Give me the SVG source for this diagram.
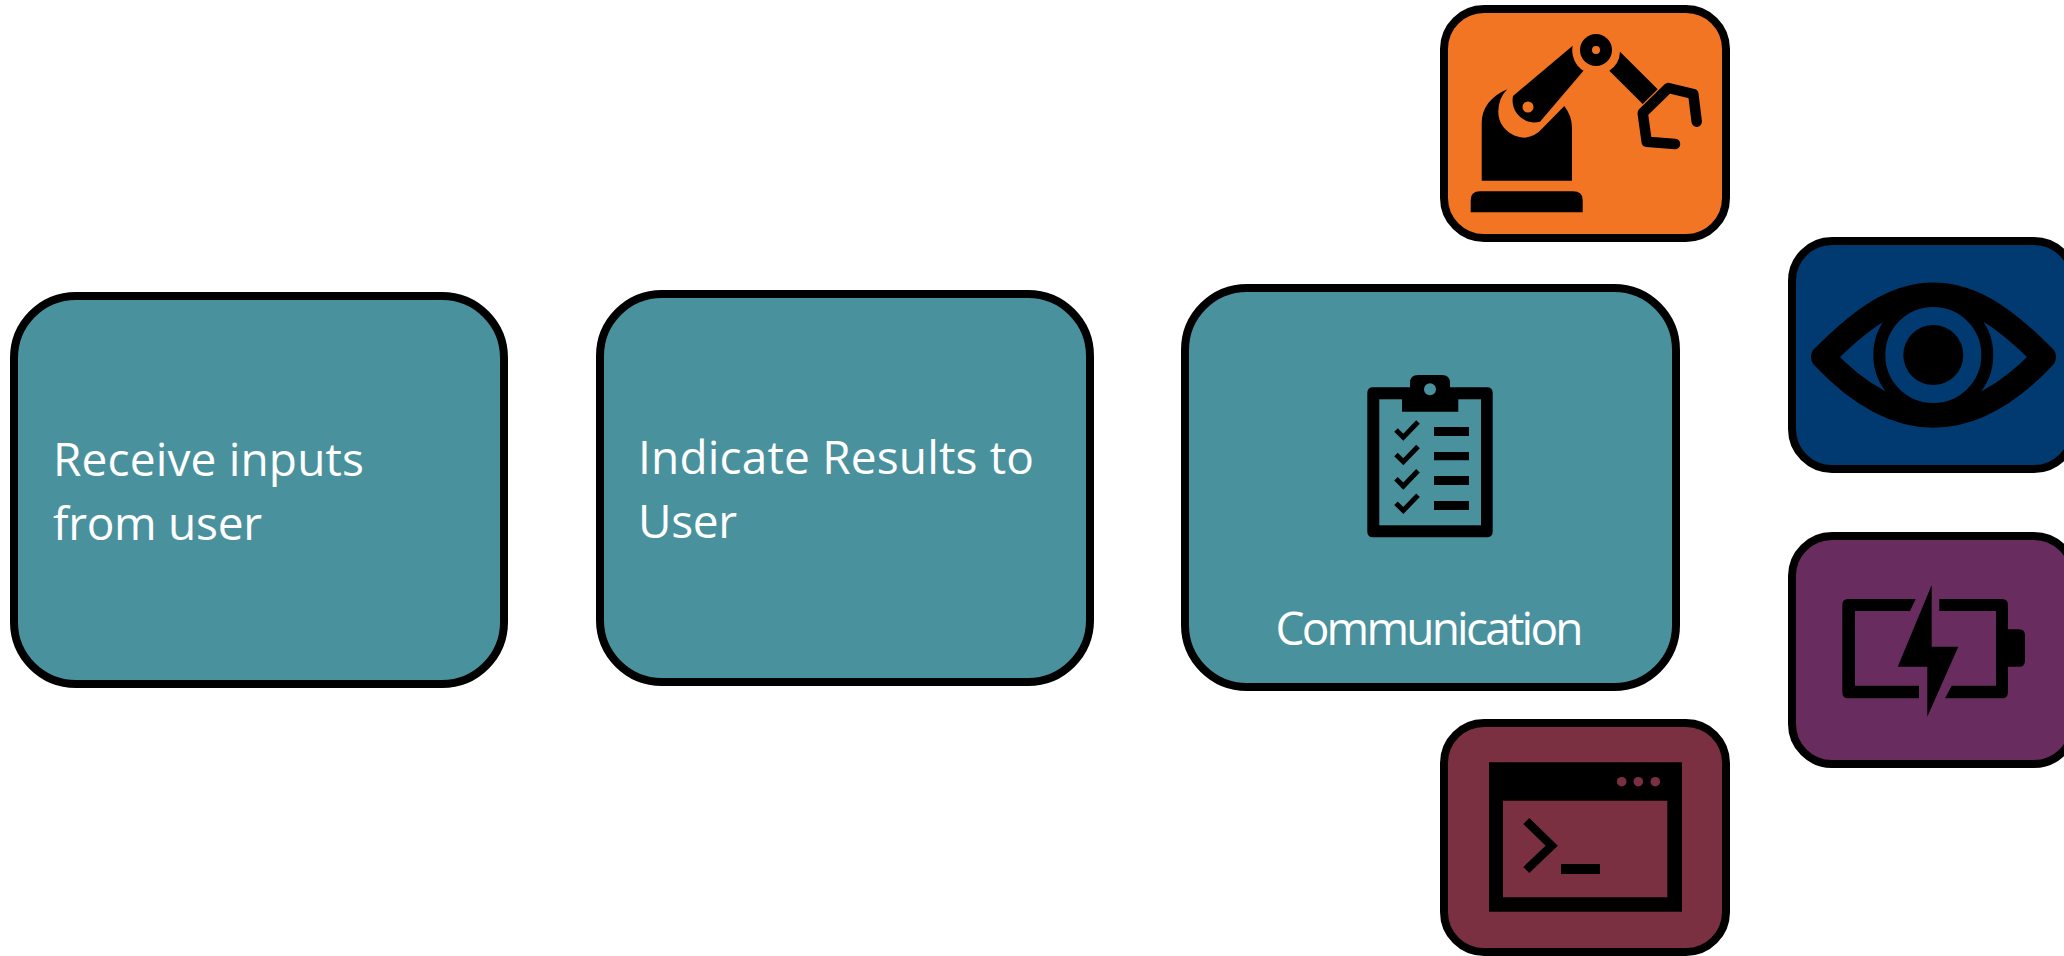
<svg xmlns="http://www.w3.org/2000/svg" width="2064" height="956" viewBox="0 0 2064 956">
<style>
.box{stroke:#000;stroke-width:8}
.teal{fill:#4a919e}
.t{font-family:"Open Sans","Noto Sans",sans-serif;font-size:46px;fill:#fff}
.k{fill:#000}
</style>
<defs><clipPath id="eyeclip"><path d="M1823 357C1855 325 1890 294.500 1933.500 294.500S2012 325 2044 357C2012 391 1975 415.700 1933.500 415.700S1855 391 1823 357Z"/></clipPath></defs>
<rect width="2064" height="956" fill="#fff"/>
<g id="connectors"/>
<g id="node-receive"><rect class="box teal" x="14" y="296" width="490" height="388" rx="62"/>
<text class="t" x="53" y="476" textLength="311">Receive inputs</text><text class="t" x="53" y="540" textLength="209">from user</text></g>
<g id="node-indicate"><rect class="box teal" x="600" y="294" width="490" height="388" rx="62"/>
<text class="t" x="638" y="474" textLength="396">Indicate Results to</text><text class="t" x="638" y="538" textLength="99">User</text></g>
<g id="node-communication"><rect class="box teal" x="1185" y="288" width="491" height="399" rx="62"/>
<path class="k" d="M1373 387.300H1410V383Q1410 375 1418 375H1442Q1450 375 1450 383V387.300H1487Q1492.700 387.300 1492.700 393V531.500Q1492.700 537.300 1487 537.300H1373Q1367.300 537.300 1367.300 531.500V393Q1367.300 387.300 1373 387.300Z"/>
<rect class="teal" x="1379.300" y="399.300" width="101.700" height="126"/>
<path class="k" d="M1402 393H1458.300V411.700H1402Z"/>
<circle class="teal" cx="1430" cy="389.300" r="6"/>
<path class="k" d="M1434 427H1469V436H1434ZM1434 452H1469V460.300H1434ZM1434 476H1469V485H1434ZM1434 501H1469V510H1434Z"/>
<path d="M1396 430L1403.300 437.300L1418 422M1396 454.400L1403.300 461.700L1418 446.400M1396 478.800L1403.300 486.100L1418 470.800M1396 503.200L1403.300 510.500L1418 495.200" fill="none" stroke="#000" stroke-width="5"/>
<text class="t" x="1275.500" y="645" textLength="308">Communication</text></g>
<g id="node-robot"><rect class="box" fill="#f27524" x="1444" y="9" width="282" height="229" rx="40"/>
<circle class="k" cx="1596" cy="50" r="16"/><circle cx="1596" cy="50" r="4" fill="#f27524"/>
<path class="k" d="M1572.700 45.700L1513 96A22 22 0 0 0 1540 121.700L1583.500 70.700A24 24 0 0 1 1572.700 45.700Z"/>
<circle cx="1528" cy="107" r="5.500" fill="#f27524"/>
<path class="k" d="M1507.300 89.300C1491 96 1481.700 108 1481.700 123V180.700H1572V128Q1572 116 1564.300 106L1542.700 128A28 28 0 0 1 1525 137.700C1510 137 1498.300 126 1498.300 111.700Q1498.300 98 1507.300 89.300Z"/>
<path class="k" d="M1470.700 212.300V200Q1470.700 191.300 1480 191.300H1573Q1582.700 191.300 1582.700 200V212.300Z"/>
<path class="k" d="M1620 51.700L1657.700 89.300L1642.700 104L1609.300 70.700A24 24 0 0 0 1620 51.700Z"/>
<path d="M1696.700 121.700L1693.300 94L1668.300 88L1642.700 113L1646.700 141.700L1675 144" fill="none" stroke="#000" stroke-width="10.500" stroke-linecap="round" stroke-linejoin="round"/></g>
<g id="node-eye"><rect class="box" fill="#003a70" x="1792" y="241" width="282" height="228" rx="40"/>
<path d="M1823 357C1855 325 1890 294.500 1933.500 294.500S2012 325 2044 357C2012 391 1975 415.700 1933.500 415.700S1855 391 1823 357Z" fill="#003a70" stroke="#000" stroke-width="24" stroke-linejoin="round"/>
<circle cx="1933.300" cy="355" r="54" fill="#003a70" stroke="#000" stroke-width="12" clip-path="url(#eyeclip)"/>
<circle class="k" cx="1933.300" cy="355" r="30"/></g>
<g id="node-battery"><rect class="box" fill="#692c5f" x="1792" y="536" width="282" height="228" rx="40"/>
<path class="k" d="M1915.700 599H1848Q1842.300 599 1842.300 605V692Q1842.300 698.300 1848 698.300H1919V685.700H1855V611H1910ZM1939.300 599H2002Q2008 599 2008 605V692Q2008 698.300 2002 698.300H1945L1951.700 685.700H1996V611H1939.300ZM2008 629.300H2019Q2025 629.300 2025 635.300V660.700Q2025 666.700 2019 666.700H2008ZM1931.700 585V646.700H1958.300L1927.300 716.700V666.700H1897.700Z"/></g>
<g id="node-terminal"><rect class="box" fill="#7a3041" x="1444" y="723" width="282" height="229" rx="40"/>
<path class="k" fill-rule="evenodd" d="M1489 762.300H1682V911.700H1489ZM1503 800.700V897.300H1667.300V800.700Z"/>
<g fill="#7a3041"><circle cx="1621.700" cy="781.700" r="4.800"/><circle cx="1638.300" cy="781.700" r="4.800"/><circle cx="1655.300" cy="781.700" r="4.800"/></g>
<path d="M1526.300 821L1551.700 845.700L1526.300 870" fill="none" stroke="#000" stroke-width="8.500"/>
<rect class="k" x="1561" y="864" width="39" height="10"/></g>
</svg>
